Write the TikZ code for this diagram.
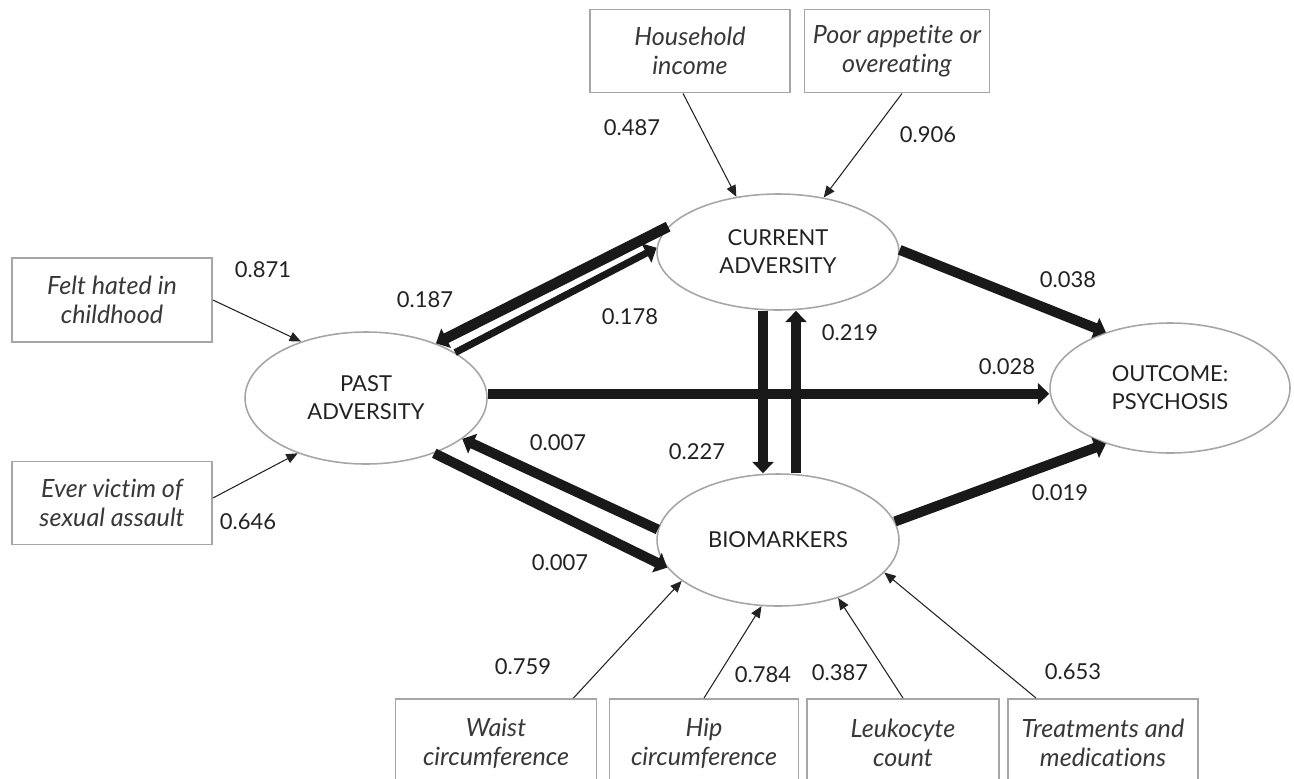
\documentclass[tikz,border=0pt]{standalone}
\usepackage{fontspec}
\setmainfont{Lato}[RawFeature={-liga;-clig;-dlig;-calt;-rlig}]
\usetikzlibrary{shapes.geometric,arrows.meta}
\definecolor{rimgray}{HTML}{A6A6A6}
\definecolor{inkgray}{HTML}{222222}

\begin{document}
\begin{tikzpicture}[x=0.02cm, y=-0.02cm,
  font=\fontsize{12.5}{16}\selectfont,
  latent/.style={ellipse, draw=rimgray, line width=0.9pt, fill=white, inner sep=0pt,
    minimum width=4.84cm, minimum height=2.64cm, align=center, text=inkgray},
  indicator/.style={rectangle, draw=rimgray, line width=1.1pt, minimum width=4cm,
    minimum height=1.66cm, align=center, text=inkgray!90,
    font=\fontsize{14.3}{16.6}\selectfont\itshape},
  loading/.style={-{Triangle[length=6.5pt, width=5.5pt]}, line width=0.6pt, inkgray},
  effect/.style={-{Triangle[length=6.5pt, width=12pt]}, line width=5.7pt, black!90},
  coef/.style={text=inkgray}]
\clip (0,0) rectangle (1294,778);
% Define the nodes
\node[latent, minimum height=2.32cm] (cur) at (778,252) {CURRENT\\ADVERSITY};
\node[latent] (past) at (366,398) {PAST\\ADVERSITY};
\node[latent] (bio) at (778,540) {BIOMARKERS};
\node[latent, minimum width=4.8cm, minimum height=2.6cm] (out) at (1170,388) {OUTCOME:\\PSYCHOSIS};
\node[indicator] (hh) at (690,51) {Household\\income};
\node[indicator, minimum width=3.7cm] (pa) at (897,51) {Poor appetite or\\overeating};
\node[indicator, minimum height=1.68cm] (felt) at (112,300) {Felt hated in\\childhood};
\node[indicator] (ever) at (112,503) {Ever victim of\\sexual assault};
\node[indicator, minimum width=4.02cm, minimum height=1.76cm] (waist) at (496,743) {Waist\\circumference};
\node[indicator, minimum width=3.78cm, minimum height=1.76cm] (hip) at (704,743) {Hip\\circumference};
\node[indicator, minimum width=3.84cm, minimum height=1.76cm] (leuko) at (903,743) {Leukocyte\\count};
\node[indicator, minimum width=3.8cm, minimum height=1.76cm] (treat) at (1103,743) {Treatments and\\medications};
% Loadings
\draw[loading] ([xshift=-0.14cm]hh.south) -- (cur.127);
\draw[loading] ([xshift=0.1cm]pa.south) -- (cur.50);
\draw[loading] (felt.east) -- (past.139);
\draw[loading] ([yshift=0.1cm]ever.east) -- (past.219);
\draw[loading] ([xshift=-0.48cm]waist.north east) -- (bio.203);
\draw[loading] (hip.north) -- (bio.256);
\draw[loading] (leuko.north) -- (bio.316);
\draw[loading] ([xshift=0.58cm]treat.north west) -- (bio.343);
% Structural paths
\draw[effect, line width=6pt] (cur.167) -- (past.38);
\draw[effect, line width=4pt] (past.27) -- (cur.178);
\draw[effect] (past.2) -- (past.2 -| out.west);
\draw[effect] (cur.1) -- (out.139);
\draw[effect] ([xshift=-0.3cm]cur.south) -- ([xshift=-0.3cm]bio.north);
\draw[effect] ([xshift=0.36cm]bio.north) -- ([xshift=0.36cm]cur.south);
\draw[effect] (bio.175) -- (past.337);
\draw[effect] (past.321) -- (bio.194);
\draw[effect] (bio.9) -- (out.221);
% Coefficients
\node[coef] (c487) at (632,128) {0.487};
\node[coef] (c906) at (928,135) {0.906};
\node[coef] (c871) at (263,270) {0.871};
\node[coef] (c646) at (248,522) {0.646};
\node[coef] (c187) at (425,300) {0.187};
\node[coef] (c178) at (630,317) {0.178};
\node[coef] (c219) at (850,333) {0.219};
\node[coef] (c038) at (1068,280) {0.038};
\node[coef] (c028) at (1007,367) {0.028};
\node[coef] (c227) at (697,452) {0.227};
\node[coef] (c007a) at (558,443) {0.007};
\node[coef] (c007b) at (560,563) {0.007};
\node[coef] (c019) at (1060,493) {0.019};
\node[coef] (c759) at (523,667) {0.759};
\node[coef] (c784) at (763,675) {0.784};
\node[coef] (c387) at (840,673) {0.387};
\node[coef] (c653) at (1073,672) {0.653};
\end{tikzpicture}
\end{document}
